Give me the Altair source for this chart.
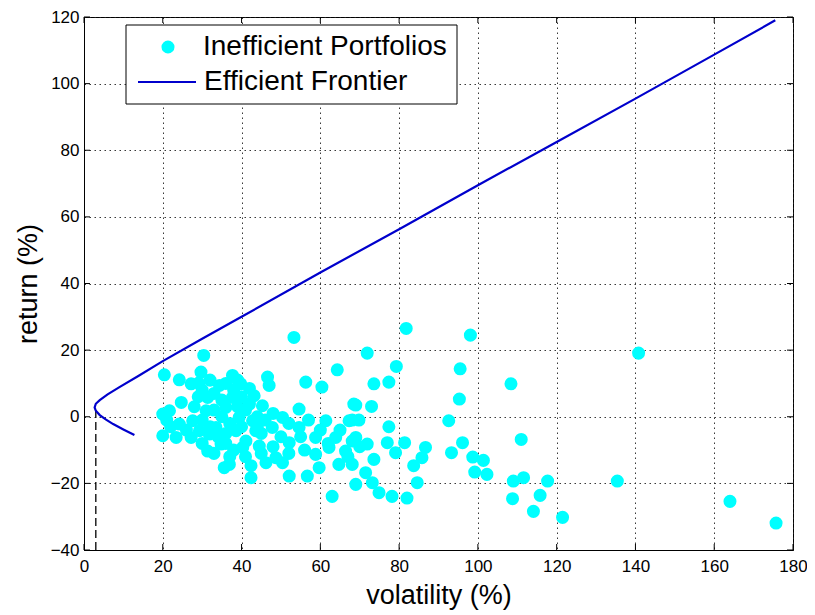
import altair as alt
import pandas as pd

# ---- data ----
pts_x = [30.4, 20.4, 24.2, 27.2, 29.7, 29.1, 37.7, 34.4, 39.8, 42.0, 24.7, 31.4, 36.0, 20.0, 21.7,
         24.2, 27.6, 20.0, 23.4, 27.2, 31.4, 33.5, 38.6, 41.1, 36.9, 35.6, 42.4, 42.4, 31.0, 31.8,
         39.4, 37.7, 42.0, 29.3, 34.8, 40.3, 42.8,
         53.3, 64.3, 56.3, 60.4, 46.6, 47.0, 43.2, 45.3, 68.5, 54.6, 50.4, 61.4, 67.3, 43.6, 47.8,
         54.6, 58.8, 63.9, 44.5, 52.1, 48.7, 58.8, 66.4, 46.2, 50.4, 52.1, 56.7, 59.7, 64.7, 68.1,
         69.0, 63.0, 68.1, 62.2,
         81.8, 71.9, 79.3, 73.6, 77.4, 69.0, 73.0, 68.1, 69.8, 77.4, 69.0, 71.9, 77.0, 81.4, 86.7,
         79.1, 73.6, 85.8, 83.7, 71.5, 73.2, 84.6, 74.9, 78.2, 82.0,
         98.1, 95.5, 108.4, 95.3, 92.6, 111.0, 96.1, 93.3, 98.7, 101.4, 99.2, 102.3, 109.0, 111.6,
         117.7, 108.8, 115.8, 114.1, 121.5,
         140.8, 135.4, 164.0, 175.7,
         30, 33, 35, 38, 40, 33, 35, 37, 30, 32, 28, 34, 36, 38, 40, 41, 44, 44, 30, 33, 36, 39,
         26, 22, 21, 36, 39, 29, 32, 37, 41, 45, 46, 48, 50, 52, 55, 57, 60, 62, 65, 67, 70, 56,
         48, 45, 52]
pts_y = [18.4, 12.6, 11.1, 9.9, 13.4, 10.1, 12.4, 9.4, 9.9, 8.5, 4.3, 5.8, 2.8, 0.8, 1.8,
         -2.2, -1.2, -5.7, -6.2, -6.2, -10.3, -3.2, -4.2, -7.3, -14.3, -15.3, -14.7, -18.3, 1.8, -5.2,
         -0.2, 5.8, 3.8, -4.2, -8.2, -9.2, -1.2,
         23.8, 14.1, 10.4, 8.9, 11.9, 9.4, 6.3, 3.3, 3.8, 2.3, -0.2, -1.2, -1.2, -4.2, -3.2,
         -3.2, -6.2, -6.2, -8.8, -7.8, -12.3, -11.3, -10.3, -13.8, -13.8, -17.8, -17.8, -15.3, -14.3, -14.3,
         -20.3, -23.9, -7.3, -9.2,
         26.5, 19.1, 15.1, 9.9, 10.4, 3.5, 3.1, -1.0, -1.0, -3.0, -6.2, -8.2, -7.8, -7.8, -9.2,
         -10.8, -12.8, -12.3, -14.7, -16.8, -19.8, -19.8, -22.8, -23.9, -24.4,
         24.5, 14.4, 9.9, 5.3, -1.2, -6.8, -7.8, -10.8, -12.1, -13.1, -16.6, -17.3, -19.3, -18.3,
         -19.3, -24.6, -23.6, -28.4, -30.2,
         19.1, -19.3, -25.4, -31.9,
         8, 7, 5, 8, 6, 2, 0, -2, -1, -3, 3, -6, -8, -10, -3, 2, 0, -3, -8, -11, -5, 3,
         -4, -3, -1, 10, 11, 6, 11, -12, -12, -5, -1, 1, -6, -2, -6, -1, -4, -8, -4, -12, -9, -10,
         -9, -11, -11]

# efficient frontier, in drawing order (lower branch end -> min variance -> upper end)
front_x = [12.8, 10.0, 7.4, 5.5, 4.0, 3.0, 2.7, 3.0, 4.0, 6.0, 9.0, 14.0, 20.0, 30.0, 40.0,
           60.0, 80.0, 100.0, 120.0, 140.0, 160.0, 175.5]
front_y = [-5.5, -3.8, -2.2, -0.8, 0.5, 1.8, 2.8, 3.9, 5.0, 6.7, 8.9, 12.4, 16.7, 23.4, 30.0,
           43.3, 56.3, 69.5, 82.5, 95.5, 108.7, 119.0]

minvar_x = [3.0]
minvar_y = [2.8]
y_floor = [-40]

x_ticks = [0, 20, 40, 60, 80, 100, 120, 140, 160, 180]
y_ticks = [-40, -20, 0, 20, 40, 60, 80, 100, 120]

labels = ["Inefficient Portfolios", "Efficient Frontier"]

W, H = 709, 533
FONT = "Liberation Sans"

pts = pd.DataFrame({"x": pts_x, "y": pts_y, "series": labels[0]})
front = pd.DataFrame({"x": front_x, "y": front_y, "series": labels[1],
                      "order": list(range(len(front_x)))})
mv = pd.DataFrame({"x": minvar_x, "y": minvar_y, "y0": y_floor})
xt = pd.DataFrame({"t": x_ticks})
yt = pd.DataFrame({"t": y_ticks})
one = pd.DataFrame({"a": [0]})

xscale = alt.Scale(domain=[0, 180], nice=False, zero=False)
yscale = alt.Scale(domain=[-40, 120], nice=False, zero=False)

xaxis = alt.Axis(values=x_ticks, title="volatility (%)", grid=True, gridDash=[1.5, 3.5],
                 gridColor="#222", gridOpacity=0.9, tickSize=0, labelPadding=8,
                 titlePadding=8, labelFlush=False)
yaxis = alt.Axis(values=y_ticks, title="return (%)", grid=True, gridDash=[1.5, 3.5],
                 gridColor="#222", gridOpacity=0.9, tickSize=0, labelPadding=5,
                 titlePadding=8)

scatter = alt.Chart(pts).mark_circle(size=170, opacity=1).encode(
    x=alt.X("x:Q", scale=xscale, axis=xaxis),
    y=alt.Y("y:Q", scale=yscale, axis=yaxis),
    color=alt.Color("series:N", scale=alt.Scale(domain=[labels[0]], range=["#00ffff"]),
                    legend=alt.Legend(title=None, orient="none", legendX=70, legendY=16,
                                      symbolSize=170, labelOffset=21, symbolType="circle",
                                      labelLimit=0)),
)

frontier = alt.Chart(front).mark_line(strokeWidth=2.2).encode(
    x="x:Q", y="y:Q", order="order:Q",
    color=alt.Color("series:N", scale=alt.Scale(domain=[labels[1]], range=["#0000cc"]),
                    legend=alt.Legend(title=None, orient="none", legendX=53, legendY=35,
                                      symbolSize=3364, symbolStrokeWidth=2, labelOffset=7,
                                      symbolType="stroke", labelLimit=0)),
)

dash = alt.Chart(mv).mark_rule(color="black", strokeDash=[8, 4], strokeWidth=1.3).encode(
    x="x:Q", y="y0:Q", y2="y:Q")

tick_b = alt.Chart(xt).mark_rule(color="black").encode(
    x="t:Q", y=alt.value(H), y2=alt.value(H - 6))
tick_t = alt.Chart(xt).mark_rule(color="black").encode(
    x="t:Q", y=alt.value(0), y2=alt.value(6))
tick_l = alt.Chart(yt).mark_rule(color="black").encode(
    y="t:Q", x=alt.value(0), x2=alt.value(6))
tick_r = alt.Chart(yt).mark_rule(color="black").encode(
    y="t:Q", x=alt.value(W), x2=alt.value(W - 6))

legend_box = alt.Chart(one).mark_rect(fill="white", stroke="black", strokeWidth=1).encode(
    x=alt.value(42), x2=alt.value(373), y=alt.value(8), y2=alt.value(87))

chart = alt.layer(
    legend_box, tick_b, tick_t, tick_l, tick_r, dash, scatter, frontier
).resolve_scale(color="independent").properties(
    width=W, height=H,
    autosize=alt.AutoSizeParams(type="none"),
    padding={"left": 76, "top": 9, "right": 14, "bottom": 63},
).configure_view(
    stroke="black", strokeWidth=1
).configure_axis(
    labelFont=FONT, titleFont=FONT, labelFontSize=17, titleFontSize=27,
    labelColor="black", titleColor="black", titleFontWeight="normal",
    domainColor="black", domainWidth=1,
).configure_legend(
    labelFont=FONT, labelFontSize=28, labelColor="black", padding=0,
    rowPadding=6,
)

chart.save("out.html", embed_options={"renderer": "svg", "actions": False})
